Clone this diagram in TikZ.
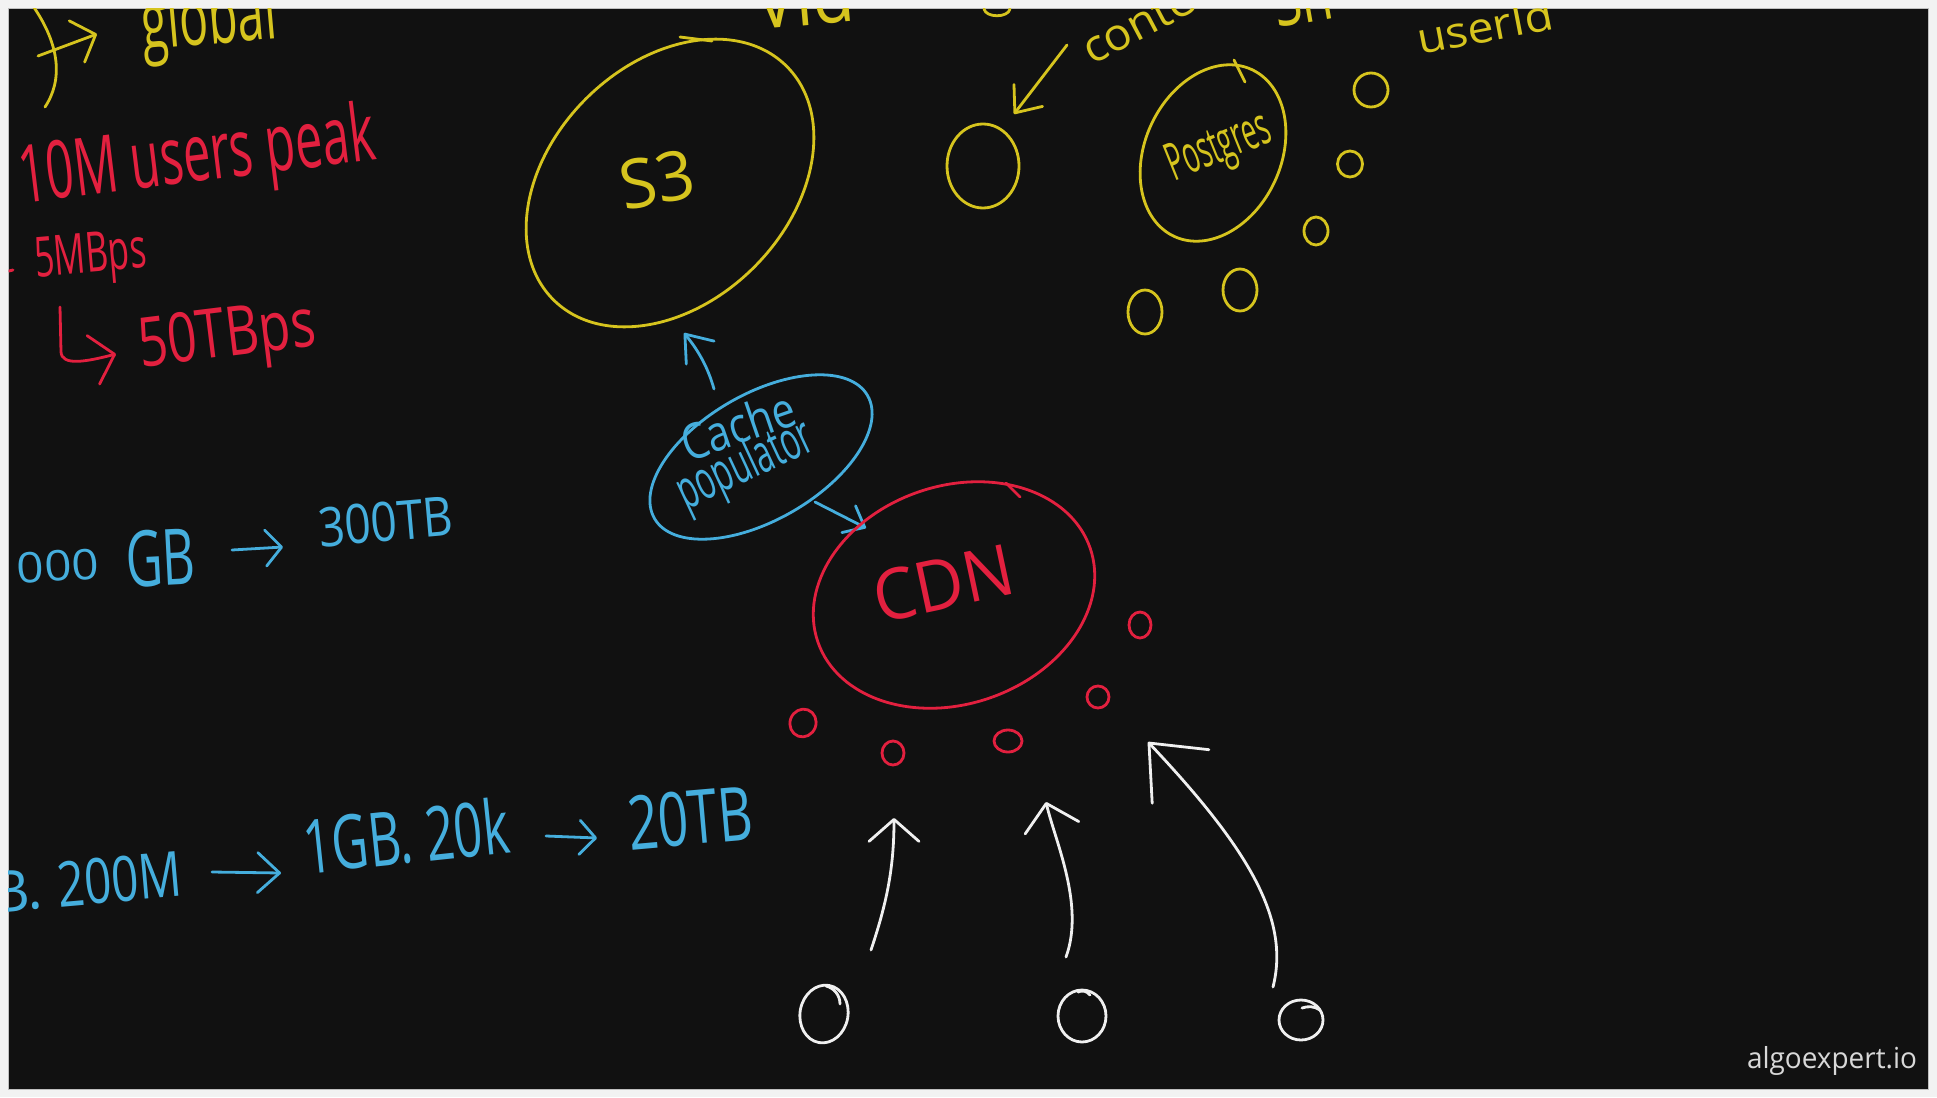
\documentclass[tikz,border=0pt]{standalone}
\usepackage{fontspec}
\setmainfont{Open Sans}
\usetikzlibrary{shapes.geometric,arrows.meta}
\definecolor{bg}{HTML}{111111}
\definecolor{framec}{HTML}{F2F2F2}
\definecolor{ylw}{HTML}{D6C41E}
\definecolor{rd}{HTML}{E3203F}
\definecolor{bl}{HTML}{45AEDD}
\definecolor{wh}{HTML}{F0F0F0}
\newcommand{\hw}[3]{\resizebox*{#1pt}{#2pt}{#3}}
\begin{document}
\begin{tikzpicture}[x=1pt,y=-1pt,
  stroke/.style={line width=2.8pt,line cap=round,line join=round},
  blob/.style={stroke,draw,ellipse,inner sep=0pt,outer sep=0pt},
  lbl/.style={anchor=base west,inner sep=0pt,outer sep=0pt},
  head/.style 2 args={-{Straight Barb[length=#1pt,width=#2pt,round]}},
]
\useasboundingbox (0,0) rectangle (1937,1097);
\fill[framec] (0,0) rectangle (1937,1097);
\fill[bg] (8.6,8.6) rectangle (1928,1089);
\draw[black!25,line width=0.8pt] (8.6,8.6) rectangle (1928,1089);

\begin{scope}
\clip (8.6,8.6) rectangle (1928,1089);

% ---------- top-left yellow ----------
\draw[stroke,ylw] (33,6) .. controls (60,45) and (63,80) .. (45,107);
\coordinate (ga) at (38,56);
\coordinate (gb) at (97,34);
\draw[stroke,ylw,head={20}{44}] (ga) -- (gb);
\node[lbl,text=ylw,rotate=5] (tglobal) at (143,50) {\hw{136}{78}{global}};

% ---------- red notes ----------
\node[lbl,text=rd,rotate=7] (tusers) at (22,203) {\hw{358}{80}{10M users peak}};
\draw[stroke,rd] (9,271) -- (13,270);
\node[lbl,text=rd,rotate=5] (tmbps) at (36,277) {\hw{112}{53}{5MBps}};
\coordinate (hk1) at (60,307);
\coordinate (hk2) at (116,354);
\draw[stroke,rd,head={22}{50}] (hk1) -- (61,352) .. controls (62,366) and (85,362) .. (hk2);
\node[lbl,text=rd,rotate=7] (ttbps) at (141,367) {\hw{178}{66}{50TBps}};

% ---------- blue notes ----------
\node[lbl,text=bl,rotate=3] (t000) at (18,583) {\hw{82}{31}{000}};
\node[lbl,text=bl,rotate=3] (tgb) at (127,587) {\hw{70}{57}{GB}};
\coordinate (ba1) at (232,550);
\coordinate (ba2) at (283,547);
\draw[stroke,bl,head={16}{36}] (ba1) -- (ba2);
\node[lbl,text=bl,rotate=5] (t300) at (320,547) {\hw{135}{40}{300TB}};

\node[lbl,text=bl,rotate=5] (tb) at (-6,913) {\hw{50}{42}{B.}};
\node[lbl,text=bl,rotate=5] (t200) at (59,907) {\hw{125}{46}{200M}};
\coordinate (bb1) at (212,872);
\coordinate (bb2) at (281,873);
\draw[stroke,bl,head={22}{40}] (bb1) -- (bb2);
\node[lbl,text=bl,rotate=6] (t1gb) at (306,874) {\hw{207}{58}{1GB. 20k}};
\coordinate (bc1) at (546,836);
\coordinate (bc2) at (597,838);
\draw[stroke,bl,head={16}{34}] (bc1) -- (bc2);
\node[lbl,text=bl,rotate=5] (t20tb) at (630,850) {\hw{125}{55}{20TB}};

% ---------- cut-off top texts ----------
\node[lbl,text=ylw,rotate=5] (tvid) at (757,30) {\hw{100}{60}{Vid}};
\draw[stroke,ylw] (984,9) .. controls (986,18) and (1008,18) .. (1010,9);
\node[lbl,text=ylw,rotate=28] (tcontent) at (1092,66) {\hw{165}{30}{content}};
\node[lbl,text=ylw,rotate=10] (tsh) at (1277,28) {\hw{60}{55}{Sh}};
\node[lbl,text=ylw,rotate=11] (tuser) at (1420,55) {\hw{138}{33}{userId}};

% ---------- S3 ----------
\node[blob,ylw,minimum width=330pt,minimum height=238pt,rotate=45] (s3) at (670,183) {};
\draw[stroke,ylw] (680,37) -- (712,41);
\node[lbl,text=ylw,rotate=10] (ts3) at (624,210) {\hw{75}{50}{S3}};

% ---------- content arrow & blob ----------
\coordinate (ya1) at (1067,45);
\coordinate (ya2) at (1014,114);
\draw[stroke,ylw,head={22}{36}] (ya1) -- (ya2);
\node[blob,ylw,minimum width=72pt,minimum height=84pt] (y0) at (983,166) {};

% ---------- Postgres ----------
\node[blob,ylw,minimum width=184pt,minimum height=136pt,rotate=65] (pg) at (1213,153) {};
\draw[stroke,ylw] (1234,60) -- (1245,82);
\node[lbl,text=ylw,rotate=22] (tpg) at (1174,181) {\hw{108}{50}{Postgres}};
\node[blob,ylw,minimum width=34pt,minimum height=34pt] (p1) at (1371,90) {};
\node[blob,ylw,minimum width=25pt,minimum height=26pt] (p2) at (1350,164) {};
\node[blob,ylw,minimum width=24pt,minimum height=28pt] (p3) at (1316,231) {};
\node[blob,ylw,minimum width=34pt,minimum height=42pt] (p4) at (1240,290) {};
\node[blob,ylw,minimum width=34pt,minimum height=44pt] (p5) at (1145,312) {};

% ---------- cache populator ----------
\node[blob,bl,minimum width=246pt,minimum height=126pt,rotate=30] (cache) at (761,457) {};
\node[lbl,text=bl,rotate=19] (tcache) at (688,462) {\hw{118}{38}{Cache}};
\node[lbl,text=bl,rotate=25] (tpop) at (686,510) {\hw{145}{54}{populator}};
\coordinate (cs1) at (714,389);
\coordinate (cs2) at (684,333);
\draw[stroke,bl,head={24}{36}] (cs1) .. controls (710,375) and (703,356) .. (cs2);
\coordinate (cc1) at (815,502);
\coordinate (cc2) at (866,528);
\draw[stroke,bl,head={18}{30}] (cc1) -- (cc2);

% ---------- CDN ----------
\node[blob,rd,minimum width=288pt,minimum height=218pt,rotate=19] (cdn) at (954,595) {};
\draw[stroke,rd] (1006,483) -- (1020,497);
\node[lbl,text=rd,rotate=12] (tcdn) at (879,623) {\hw{142}{52}{CDN}};
\node[blob,rd,minimum width=26pt,minimum height=28pt,rotate=-20] (r1) at (803,723) {};
\node[blob,rd,minimum width=22pt,minimum height=24pt] (r2) at (893,753) {};
\node[blob,rd,minimum width=28pt,minimum height=22pt] (r3) at (1008,741) {};
\node[blob,rd,minimum width=22pt,minimum height=22pt] (r4) at (1098,697) {};
\node[blob,rd,minimum width=22pt,minimum height=26pt] (r5) at (1140,625) {};

% ---------- clients ----------
\node[blob,wh,minimum width=48pt,minimum height=58pt,rotate=-10] (w1) at (824,1014) {};
\draw[stroke,wh] (826,986) .. controls (834,988) and (840,995) .. (840,1004);
\node[blob,wh,minimum width=48pt,minimum height=52pt] (w2) at (1082,1016) {};
\draw[stroke,wh] (1078,992) .. controls (1082,990) and (1087,991) .. (1090,995);
\node[blob,wh,minimum width=44pt,minimum height=40pt] (w3) at (1301,1020) {};
\draw[stroke,wh] (1302,1008) .. controls (1308,1006) and (1314,1006) .. (1320,1010);

\coordinate (a1s) at (871,950);
\coordinate (a1e) at (894,818);
\draw[stroke,wh,head={22}{50}] (a1s) .. controls (886,905) and (894,870) .. (a1e);
\coordinate (a2s) at (1066,957);
\coordinate (a2e) at (1046,802);
\draw[stroke,wh,head={25}{55}] (a2s) .. controls (1085,905) and (1055,841) .. (a2e);
\coordinate (a3s) at (1273,987);
\coordinate (a3e) at (1148,742);
\draw[stroke,wh,head={46}{78}] (a3s) .. controls (1290,920) and (1250,850) .. (a3e);

% ---------- watermark ----------
\node[lbl,text=wh!90!black] (wm) at (1747,1068) {\hw{170}{29}{algoexpert.io}};
\end{scope}
\end{tikzpicture}
\end{document}
